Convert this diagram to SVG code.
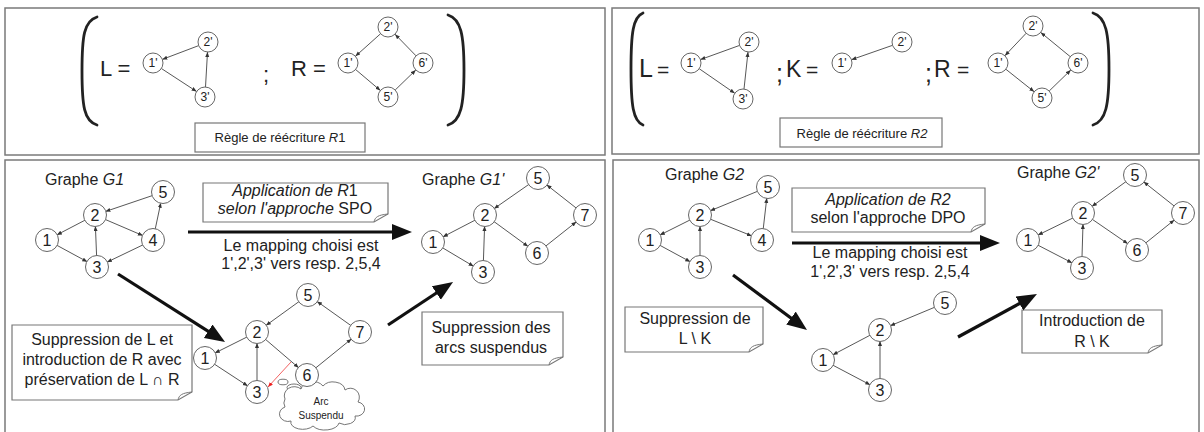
<svg xmlns="http://www.w3.org/2000/svg" width="1204" height="432" viewBox="0 0 1204 432">
<style>
text{font-family:"Liberation Sans",Arial,sans-serif;fill:#222}
.panel{fill:#fff;stroke:#7a7a7a;stroke-width:1.5}
.paren{fill:none;stroke:#222;stroke-width:2.8;stroke-linecap:round}
.nd{fill:#fff;stroke:#666;stroke-width:1}
.np text,.np{font-size:12px;text-anchor:middle}
.ng{font-size:16px;text-anchor:middle}
.e{stroke:#444;stroke-width:0.9;fill:none;marker-end:url(#sa)}
.big{stroke:#111;stroke-width:3.2;fill:none;marker-end:url(#ba)}
.box{fill:#fff;stroke:#777;stroke-width:1.2}
.fold{fill:none;stroke:#777;stroke-width:1}
.t16{font-size:16px;text-anchor:middle}
.cap{font-size:13px;text-anchor:middle}
.it{font-style:italic}
.eq{font-size:22px}
</style>
<defs>
<marker id="sa" markerUnits="userSpaceOnUse" markerWidth="6" markerHeight="5" refX="5" refY="2" orient="auto"><path d="M0,0 L5,2 L0,4 Z" fill="#333"/></marker>
<marker id="ba" markerUnits="userSpaceOnUse" markerWidth="21" markerHeight="17" refX="10" refY="8" orient="auto"><path d="M0,0 L20,8 L0,16 Z" fill="#111"/></marker>
<marker id="ra" markerUnits="userSpaceOnUse" markerWidth="6" markerHeight="5" refX="5" refY="2" orient="auto"><path d="M0,0 L5,2 L0,4 Z" fill="#e22"/></marker>
</defs>
<rect width="1204" height="432" fill="#fff"/>

<g id="panels">
<rect class="panel" x="5" y="8" width="600" height="147"/>
<rect class="panel" x="612" y="8" width="587" height="146"/>
<rect class="panel" x="5" y="160" width="600" height="285"/>
<rect class="panel" x="613" y="160" width="586" height="285"/>
</g>

<!-- ===== Rule R1 ===== -->
<g id="rule-r1">
<path class="paren" d="M97,17 C84,21 82,36 82,71 C82,106 84,121 97,125"/>
<path class="paren" d="M448,15 C461,19 464,35 464,70 C464,105 461,121 448,125"/>
<text class="eq" x="100" y="76">L =</text>
<text class="eq" x="263" y="82">;</text>
<text class="eq" x="291" y="76">R =</text>
<rect class="box" x="195" y="123" width="170" height="29"/>
<text class="cap" x="280" y="142">Règle de réécriture  <tspan class="it">R</tspan>1</text>
</g>
<g id="connectors-r1">
<line class="e" x1="198.7" y1="45.6" x2="162.3" y2="59.4"/>
<line class="e" x1="161.4" y1="68.5" x2="196.6" y2="91.5"/>
<line class="e" x1="205.5" y1="87" x2="207.5" y2="52"/>
<line class="e" x1="380.6" y1="33.7" x2="355.4" y2="56.3"/>
<line class="e" x1="355.6" y1="69.5" x2="380.4" y2="90.5"/>
<line class="e" x1="395.2" y1="90" x2="415.8" y2="70"/>
<line class="e" x1="416" y1="55.8" x2="395" y2="34.2"/>
</g>
<g id="r1-L-1p" class="np"><circle class="nd" cx="153" cy="63" r="10"/><text x="153" y="67.3">1'</text></g>
<g id="r1-L-2p" class="np"><circle class="nd" cx="208" cy="42" r="10"/><text x="208" y="46.3">2'</text></g>
<g id="r1-L-3p" class="np"><circle class="nd" cx="205" cy="97" r="10"/><text x="205" y="101.3">3'</text></g>
<g id="r1-R-1p" class="np"><circle class="nd" cx="348" cy="63" r="10"/><text x="348" y="67.3">1'</text></g>
<g id="r1-R-2p" class="np"><circle class="nd" cx="388" cy="27" r="10"/><text x="388" y="31.3">2'</text></g>
<g id="r1-R-6p" class="np"><circle class="nd" cx="423" cy="63" r="10"/><text x="423" y="67.3">6'</text></g>
<g id="r1-R-5p" class="np"><circle class="nd" cx="388" cy="97" r="10"/><text x="388" y="101.3">5'</text></g>

<!-- ===== Rule R2 ===== -->
<g id="rule-r2">
<path class="paren" d="M643,13 C633,17 631,33 631,69 C631,105 633,121 643,125"/>
<path class="paren" d="M1093,13 C1106,17 1109,33 1109,69 C1109,105 1106,121 1093,125"/>
<text x="639" y="77" font-size="25">L</text>
<text x="657" y="77" font-size="21">=</text>
<text x="776" y="82" font-size="25">;</text>
<text x="786" y="77" font-size="23">K</text>
<text x="806" y="77" font-size="21">=</text>
<text x="925" y="82" font-size="25">;</text>
<text x="934" y="77" font-size="23">R</text>
<text x="957" y="77" font-size="21">=</text>
<rect class="box" x="780" y="118" width="162" height="29"/>
<text class="cap" x="862" y="138">Règle de réécriture  <tspan class="it">R2</tspan></text>
</g>
<g id="connectors-r2">
<line class="e" x1="739.6" y1="45.4" x2="700.4" y2="59.6"/>
<line class="e" x1="699.2" y1="68.7" x2="734.8" y2="93.3"/>
<line class="e" x1="744" y1="89" x2="748" y2="52"/>
<line class="e" x1="892.6" y1="45.3" x2="851.4" y2="59.7"/>
<line class="e" x1="1026.1" y1="33.3" x2="1004.9" y2="55.7"/>
<line class="e" x1="1005.8" y1="69.2" x2="1034.2" y2="91.8"/>
<line class="e" x1="1049.2" y1="91" x2="1070.8" y2="70"/>
<line class="e" x1="1070.3" y1="56.7" x2="1040.7" y2="32.4"/>
</g>
<g id="r2-L-1p" class="np"><circle class="nd" cx="691" cy="63" r="10"/><text x="691" y="67.3">1'</text></g>
<g id="r2-L-2p" class="np"><circle class="nd" cx="749" cy="42" r="10"/><text x="749" y="46.3">2'</text></g>
<g id="r2-L-3p" class="np"><circle class="nd" cx="743" cy="99" r="10"/><text x="743" y="103.3">3'</text></g>
<g id="r2-K-1p" class="np"><circle class="nd" cx="842" cy="63" r="10"/><text x="842" y="67.3">1'</text></g>
<g id="r2-K-2p" class="np"><circle class="nd" cx="902" cy="42" r="10"/><text x="902" y="46.3">2'</text></g>
<g id="r2-R-1p" class="np"><circle class="nd" cx="998" cy="63" r="10"/><text x="998" y="67.3">1'</text></g>
<g id="r2-R-2p" class="np"><circle class="nd" cx="1033" cy="26" r="10"/><text x="1033" y="30.3">2'</text></g>
<g id="r2-R-6p" class="np"><circle class="nd" cx="1078" cy="63" r="10"/><text x="1078" y="67.3">6'</text></g>
<g id="r2-R-5p" class="np"><circle class="nd" cx="1042" cy="98" r="10"/><text x="1042" y="102.3">5'</text></g>

<!-- ===== SPO panel ===== -->
<g id="spo-labels">
<text x="45" y="185" font-size="16">Graphe <tspan class="it">G1</tspan></text>
<text x="422" y="185" font-size="16">Graphe <tspan class="it">G1'</tspan></text>
<text class="t16" x="301" y="251">Le mapping choisi est</text>
<text class="t16" x="301" y="269">1',2',3' vers resp. 2,5,4</text>
</g>
<g id="spo-callout">
<path class="box" d="M203,183 H388 V214 L374,222 H203 Z"/>
<path class="fold" d="M374,222 C375,217 378,215 388,214"/>
<text class="t16" x="295" y="196"><tspan class="it">Application de R</tspan>1</text>
<text class="t16" x="295" y="214"><tspan class="it">selon l'approche</tspan> SPO</text>
</g>
<g id="spo-note1">
<path class="box" d="M12,325 H192 V392 L178,400 H12 Z"/>
<path class="fold" d="M178,400 C179,395 182,393 192,392"/>
<text class="t16" x="102" y="345">Suppression de L et</text>
<text class="t16" x="102" y="365">introduction de R  avec</text>
<text class="t16" x="102" y="385">préservation de L ∩ R</text>
</g>
<g id="spo-note2">
<path class="box" d="M422,312 H563 V357 L549,365 H422 Z"/>
<path class="fold" d="M549,365 C550,360 553,358 563,357"/>
<text class="t16" x="491" y="333">Suppression des</text>
<text class="t16" x="491" y="353">arcs suspendus</text>
</g>
<g id="spo-cloud">
<ellipse cx="283" cy="382" rx="5" ry="2.8" fill="#fff" stroke="#666" stroke-width="0.9"/>
<ellipse cx="294" cy="387.5" rx="7" ry="3.5" fill="#fff" stroke="#666" stroke-width="0.9"/>
<path d="M285,399 a10,9 0 0 1 16,-10 a12,9 0 0 1 22,-3 a12,9 0 0 1 22,4 a9,9 0 0 1 13,12 a8,7 0 0 1 -3,14 a10,7 0 0 1 -16,7 a14,8 0 0 1 -26,3 a12,7 0 0 1 -22,-5 a8,7 0 0 1 -6,-14 a8,8 0 0 1 0,-8 z" fill="#fff" stroke="#666" stroke-width="0.9"/>
<text x="321" y="405" font-size="10" text-anchor="middle">Arc</text>
<text x="321" y="419" font-size="10" text-anchor="middle">Suspendu</text>
</g>
<g id="connectors-spo">
<line class="big" x1="188" y1="232" x2="402" y2="232"/>
<line class="big" x1="118" y1="274" x2="216.6" y2="336.6"/>
<line class="big" x1="388" y1="325" x2="444.7" y2="287.5"/>
<!-- G1 -->
<line class="e" x1="152.6" y1="195.5" x2="105.4" y2="211.5"/>
<line class="e" x1="85.2" y1="220.1" x2="56.8" y2="234.9"/>
<line class="e" x1="56.7" y1="245.2" x2="87.3" y2="261.8"/>
<line class="e" x1="96.6" y1="256" x2="95.4" y2="226"/>
<line class="e" x1="105.1" y1="219.4" x2="142.9" y2="235.6"/>
<line class="e" x1="155.2" y1="229.2" x2="160.8" y2="202.8"/>
<line class="e" x1="143.1" y1="244.8" x2="106.9" y2="262.2"/>
<!-- G1' -->
<line class="e" x1="529" y1="184.3" x2="494" y2="208.7"/>
<line class="e" x1="576.4" y1="208.2" x2="546.6" y2="184.8"/>
<line class="e" x1="475.2" y1="220.1" x2="442.8" y2="236.9"/>
<line class="e" x1="442.4" y1="247.7" x2="473.6" y2="266.3"/>
<line class="e" x1="483.4" y1="261" x2="484.6" y2="226"/>
<line class="e" x1="493.9" y1="221.5" x2="528.1" y2="246.5"/>
<line class="e" x1="545.6" y1="246.2" x2="576.4" y2="221.8"/>
<!-- intermediate -->
<line class="e" x1="299.1" y1="301.5" x2="265.9" y2="325.5"/>
<line class="e" x1="351" y1="325.6" x2="317" y2="301.4"/>
<line class="e" x1="247.2" y1="336.9" x2="214.8" y2="353.1"/>
<line class="e" x1="214.2" y1="364" x2="247.8" y2="386"/>
<line class="e" x1="257" y1="381" x2="257" y2="343"/>
<line class="e" x1="265.3" y1="339.2" x2="298.7" y2="367.8"/>
<line class="e" x1="315.5" y1="368.1" x2="351.5" y2="338.9"/>
<line x1="291" y1="362" x2="268" y2="387" stroke="#f05050" stroke-width="0.9" marker-end="url(#ra)"/>
</g>
<g id="g1-5" class="ng"><circle class="nd" cx="163" cy="192" r="11.5"/><text x="163" y="197.7">5</text></g>
<g id="g1-2" class="ng"><circle class="nd" cx="95" cy="215" r="11.5"/><text x="95" y="220.7">2</text></g>
<g id="g1-1" class="ng"><circle class="nd" cx="47" cy="240" r="11.5"/><text x="47" y="245.7">1</text></g>
<g id="g1-4" class="ng"><circle class="nd" cx="153" cy="240" r="11.5"/><text x="153" y="245.7">4</text></g>
<g id="g1-3" class="ng"><circle class="nd" cx="97" cy="267" r="11.5"/><text x="97" y="272.7">3</text></g>
<g id="g1p-5" class="ng"><circle class="nd" cx="538" cy="178" r="11.5"/><text x="538" y="183.7">5</text></g>
<g id="g1p-2" class="ng"><circle class="nd" cx="485" cy="215" r="11.5"/><text x="485" y="220.7">2</text></g>
<g id="g1p-7" class="ng"><circle class="nd" cx="585" cy="215" r="11.5"/><text x="585" y="220.7">7</text></g>
<g id="g1p-1" class="ng"><circle class="nd" cx="433" cy="242" r="11.5"/><text x="433" y="247.7">1</text></g>
<g id="g1p-6" class="ng"><circle class="nd" cx="537" cy="253" r="11.5"/><text x="537" y="258.7">6</text></g>
<g id="g1p-3" class="ng"><circle class="nd" cx="483" cy="272" r="11.5"/><text x="483" y="277.7">3</text></g>
<g id="g1i-5" class="ng"><circle class="nd" cx="308" cy="295" r="11.5"/><text x="308" y="300.7">5</text></g>
<g id="g1i-2" class="ng"><circle class="nd" cx="257" cy="332" r="11.5"/><text x="257" y="337.7">2</text></g>
<g id="g1i-7" class="ng"><circle class="nd" cx="360" cy="332" r="11.5"/><text x="360" y="337.7">7</text></g>
<g id="g1i-1" class="ng"><circle class="nd" cx="205" cy="358" r="11.5"/><text x="205" y="363.7">1</text></g>
<g id="g1i-6" class="ng"><circle class="nd" cx="307" cy="375" r="11.5"/><text x="307" y="380.7">6</text></g>
<g id="g1i-3" class="ng"><circle class="nd" cx="257" cy="392" r="11.5"/><text x="257" y="397.7">3</text></g>

<!-- ===== DPO panel ===== -->
<g id="dpo-labels">
<text x="665" y="180" font-size="16">Graphe <tspan class="it">G2</tspan></text>
<text x="1017" y="178" font-size="16">Graphe <tspan class="it">G2'</tspan></text>
<text class="t16" x="890" y="258">Le mapping choisi est</text>
<text class="t16" x="890" y="277">1',2',3' vers resp. 2,5,4</text>
</g>
<g id="dpo-callout">
<path class="box" d="M792,188 H985 V224 L971,232 H792 Z"/>
<path class="fold" d="M971,232 C972,227 975,225 985,224"/>
<text class="t16 it" x="888" y="205">Application de  R2</text>
<text class="t16" x="888" y="223">selon  l'approche DPO</text>
</g>
<g id="dpo-note1">
<path class="box" d="M625,307 H763 V344 L749,352 H625 Z"/>
<path class="fold" d="M749,352 C750,347 753,345 763,344"/>
<text class="t16" x="695" y="324">Suppression de</text>
<text class="t16" x="695" y="344">L \ K</text>
</g>
<g id="dpo-note2">
<path class="box" d="M1022,310 H1162 V345 L1148,353 H1022 Z"/>
<path class="fold" d="M1148,353 C1149,348 1152,346 1162,345"/>
<text class="t16" x="1092" y="326">Introduction de</text>
<text class="t16" x="1092" y="347">R \ K</text>
</g>
<g id="connectors-dpo">
<line class="big" x1="792" y1="243" x2="990" y2="243"/>
<line class="big" x1="733" y1="275" x2="799" y2="324"/>
<line class="big" x1="958" y1="337" x2="1028.2" y2="298.8"/>
<!-- G2 -->
<line class="e" x1="757.8" y1="191.2" x2="710.2" y2="210.8"/>
<line class="e" x1="690.2" y1="219.9" x2="659.8" y2="235.1"/>
<line class="e" x1="659.7" y1="245.2" x2="690.3" y2="261.8"/>
<line class="e" x1="700" y1="256" x2="700" y2="226"/>
<line class="e" x1="710.2" y1="219.1" x2="751.8" y2="235.9"/>
<line class="e" x1="763.2" y1="229.1" x2="766.8" y2="197.9"/>
<!-- G2' -->
<line class="e" x1="1126.1" y1="181.5" x2="1091.9" y2="206.5"/>
<line class="e" x1="1174.4" y1="206.2" x2="1143.6" y2="181.8"/>
<line class="e" x1="1073.1" y1="217.9" x2="1037.9" y2="235.1"/>
<line class="e" x1="1037.8" y1="245.1" x2="1072.2" y2="262.9"/>
<line class="e" x1="1082" y1="257" x2="1083" y2="224"/>
<line class="e" x1="1092.1" y1="219.2" x2="1127.9" y2="243.8"/>
<line class="e" x1="1145.6" y1="243.1" x2="1174.4" y2="219.9"/>
<!-- intermediate -->
<line class="e" x1="934.8" y1="307.2" x2="890.2" y2="325.8" stroke="#777"/>
<line class="e" x1="870.3" y1="335.1" x2="832.7" y2="354.9"/>
<line class="e" x1="832.7" y1="365.1" x2="870.3" y2="384.9"/>
<line class="e" x1="880" y1="379" x2="880" y2="341"/>
</g>
<g id="g2-5" class="ng"><circle class="nd" cx="768" cy="187" r="11.5"/><text x="768" y="192.7">5</text></g>
<g id="g2-2" class="ng"><circle class="nd" cx="700" cy="215" r="11.5"/><text x="700" y="220.7">2</text></g>
<g id="g2-1" class="ng"><circle class="nd" cx="650" cy="240" r="11.5"/><text x="650" y="245.7">1</text></g>
<g id="g2-4" class="ng"><circle class="nd" cx="762" cy="240" r="11.5"/><text x="762" y="245.7">4</text></g>
<g id="g2-3" class="ng"><circle class="nd" cx="700" cy="267" r="11.5"/><text x="700" y="272.7">3</text></g>
<g id="g2p-5" class="ng"><circle class="nd" cx="1135" cy="175" r="11.5"/><text x="1135" y="180.7">5</text></g>
<g id="g2p-2" class="ng"><circle class="nd" cx="1083" cy="213" r="11.5"/><text x="1083" y="218.7">2</text></g>
<g id="g2p-7" class="ng"><circle class="nd" cx="1183" cy="213" r="11.5"/><text x="1183" y="218.7">7</text></g>
<g id="g2p-1" class="ng"><circle class="nd" cx="1028" cy="240" r="11.5"/><text x="1028" y="245.7">1</text></g>
<g id="g2p-6" class="ng"><circle class="nd" cx="1137" cy="250" r="11.5"/><text x="1137" y="255.7">6</text></g>
<g id="g2p-3" class="ng"><circle class="nd" cx="1082" cy="268" r="11.5"/><text x="1082" y="273.7">3</text></g>
<g id="g2i-2" class="ng"><circle class="nd" cx="880" cy="330" r="11.5"/><text x="880" y="335.7">2</text></g>
<g id="g2i-1" class="ng"><circle class="nd" cx="823" cy="360" r="11.5"/><text x="823" y="365.7">1</text></g>
<g id="g2i-3" class="ng"><circle class="nd" cx="880" cy="390" r="11.5"/><text x="880" y="395.7">3</text></g>
<g id="g2i-5" class="ng"><circle class="nd" cx="945" cy="303" r="11.5"/><text x="945" y="308.7">5</text></g>
</svg>
